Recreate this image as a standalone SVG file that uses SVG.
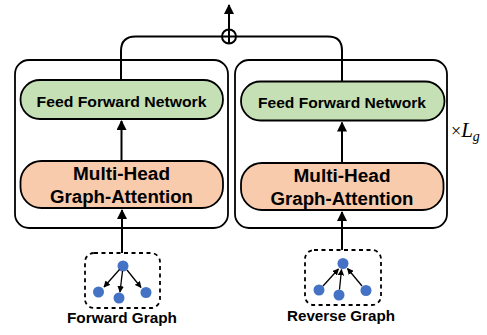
<svg xmlns="http://www.w3.org/2000/svg" width="487" height="335" viewBox="0 0 487 335">
<defs>
<marker id="ah" viewBox="0 0 10 10" refX="9" refY="5" markerWidth="5" markerHeight="5" orient="auto-start-reverse" markerUnits="strokeWidth">
<path d="M0,0 L10,5 L0,10 z" fill="#000"/>
</marker>
<marker id="ahs" viewBox="0 0 10 10" refX="9" refY="5" markerWidth="5" markerHeight="5" orient="auto" markerUnits="strokeWidth">
<path d="M0,0 L10,5 L0,10 z" fill="#000"/>
</marker>
</defs>
<style>
.outer{fill:#fff;stroke:#000;stroke-width:1.8}
.ffn{fill:#C5E0B4;stroke:#000;stroke-width:1.8}
.mha{fill:#F8CBAD;stroke:#000;stroke-width:1.8}
.gbox{fill:none;stroke:#000;stroke-width:1.8;stroke-dasharray:4 3.5}
.t{font-family:"Liberation Sans",Arial,sans-serif;font-weight:bold;fill:#000;text-anchor:middle}
.conn{fill:none;stroke:#000;stroke-width:2}
.edge{fill:none;stroke:#000;stroke-width:1.3}
.nd{fill:#4472C4}
</style>
<g id="left-block">
<rect class="outer" x="15" y="60" width="213" height="168" rx="14"/>
</g>
<g id="right-block">
<rect class="outer" x="235" y="60" width="212" height="168" rx="14"/>
</g>
<g id="ffn-left">
<rect class="ffn" x="20.5" y="80" width="202.5" height="39" rx="19.5"/>
<text class="t" x="121.5" y="107" font-size="15" textLength="170" lengthAdjust="spacingAndGlyphs">Feed Forward Network</text>
</g>
<g id="ffn-right">
<rect class="ffn" x="241" y="81.5" width="203.5" height="39" rx="19.5"/>
<text class="t" x="342" y="108" font-size="15" textLength="168" lengthAdjust="spacingAndGlyphs">Feed Forward Network</text>
</g>
<g id="mha-left">
<rect class="mha" x="20.5" y="161" width="202.5" height="47" rx="21"/>
<text class="t" x="121.5" y="179.5" font-size="18" textLength="97" lengthAdjust="spacingAndGlyphs">Multi-Head</text>
<text class="t" x="121.5" y="202.5" font-size="18" textLength="143" lengthAdjust="spacingAndGlyphs">Graph-Attention</text>
</g>
<g id="mha-right">
<rect class="mha" x="241" y="163" width="202.5" height="47" rx="21"/>
<text class="t" x="342" y="181.5" font-size="18" textLength="97" lengthAdjust="spacingAndGlyphs">Multi-Head</text>
<text class="t" x="342" y="204.5" font-size="18" textLength="143" lengthAdjust="spacingAndGlyphs">Graph-Attention</text>
</g>
<g id="sum-node">
<circle cx="229" cy="36.5" r="7" fill="#fff" stroke="#000" stroke-width="2"/>
<path d="M222 36.5 H236 M229 29.5 V43.5" stroke="#000" stroke-width="2" fill="none"/>
</g>
<g id="forward-graph">
<rect class="gbox" x="85" y="253" width="75" height="55" rx="9"/>
<circle class="nd" cx="123" cy="266" r="5.5"/>
<circle class="nd" cx="98.5" cy="292" r="5.5"/>
<circle class="nd" cx="119" cy="298" r="5.5"/>
<circle class="nd" cx="146" cy="292.5" r="5.5"/>
<path class="edge" d="M119.5 269.5 L104 287" marker-end="url(#ahs)"/>
<path class="edge" d="M122.5 271 L120 292" marker-end="url(#ahs)"/>
<path class="edge" d="M127 270 L141 287.5" marker-end="url(#ahs)"/>
<text class="t" x="122" y="323" font-size="15" textLength="110" lengthAdjust="spacingAndGlyphs">Forward Graph</text>
</g>
<g id="reverse-graph">
<rect class="gbox" x="305" y="250" width="76" height="55" rx="9"/>
<circle class="nd" cx="343" cy="263.5" r="5.5"/>
<circle class="nd" cx="319" cy="290" r="5.5"/>
<circle class="nd" cx="339" cy="295" r="5.5"/>
<circle class="nd" cx="366" cy="290.5" r="5.5"/>
<path class="edge" d="M323 286 L338.5 269" marker-end="url(#ahs)"/>
<path class="edge" d="M339.5 289.5 L341.5 269.5" marker-end="url(#ahs)"/>
<path class="edge" d="M362 286 L347.5 268.5" marker-end="url(#ahs)"/>
<text class="t" x="341" y="321" font-size="15" textLength="108" lengthAdjust="spacingAndGlyphs">Reverse Graph</text>
</g>
<g id="layer-label">
<text x="451" y="137" font-family="'Liberation Serif','Times New Roman',serif" font-size="18">×<tspan font-style="italic" font-size="21">L</tspan><tspan font-style="italic" font-size="14" dy="4">g</tspan></text>
</g>
<g id="connectors">
<path class="conn" d="M121 80 V51 Q121 36.5 135.5 36.5 H222"/>
<path class="conn" d="M236 36.5 H328 Q342 36.5 342 50.5 V81.5"/>
<path class="conn" d="M229 29.5 V5" marker-end="url(#ah)"/>
<path class="conn" d="M121.5 161 V121" marker-end="url(#ah)"/>
<path class="conn" d="M342 163 V122.5" marker-end="url(#ah)"/>
<path class="conn" d="M122 253 V210" marker-end="url(#ah)"/>
<path class="conn" d="M342 250 V212" marker-end="url(#ah)"/>
</g>
</svg>
